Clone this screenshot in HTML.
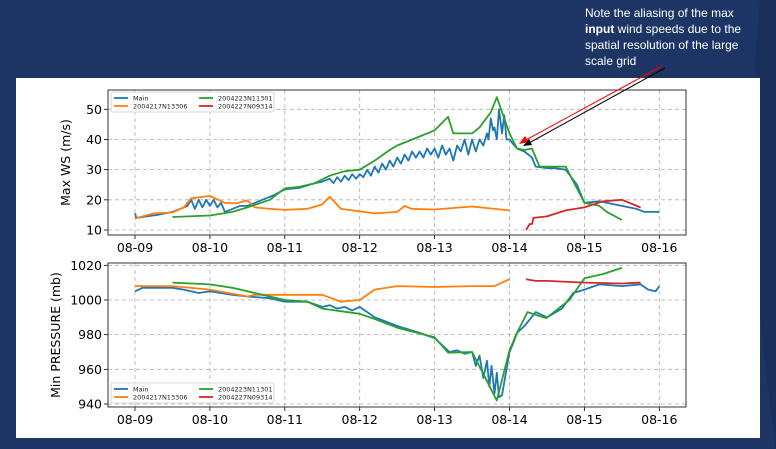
<!DOCTYPE html>
<html><head><meta charset="utf-8"><style>
html,body{margin:0;padding:0;background:#1d3565;}
svg{display:block;font-family:"DejaVu Sans","Liberation Sans",sans-serif;}
</style></head><body>
<svg id="c" width="776" height="449" viewBox="0 0 776 449">
<rect x="0" y="0" width="776" height="449" fill="#1d3565"/>
<path d="M760 0 Q740 200 776 449 L776 0Z" fill="#1a2f5a"/>
<rect x="16" y="78" width="744" height="360" fill="#fff"/>
<g id="top"></g>
<g id="bot"></g>
<text x="585" y="17" fill="#fff" font-size="12" font-family="Liberation Sans, sans-serif">Note the aliasing of the max</text>
<text x="585" y="33" fill="#fff" font-size="12" font-family="Liberation Sans, sans-serif"><tspan font-weight="bold">input</tspan> wind speeds due to the</text>
<text x="585" y="49" fill="#fff" font-size="12" font-family="Liberation Sans, sans-serif">spatial resolution of the large</text>
<text x="585" y="65" fill="#fff" font-size="12" font-family="Liberation Sans, sans-serif">scale grid</text>
<line x1="662" y1="66" x2="524" y2="141" stroke="#ff0000" stroke-width="1"/>
<polygon points="519,144 525,136 529,142" fill="#ff0000"/>
<line x1="665" y1="68" x2="529" y2="143" stroke="#000" stroke-width="1"/>
<polygon points="523,146 529,139 532,145" fill="#000"/>
</svg>
<script>
const xTickLabels=["08-09","08-10","08-11","08-12","08-13","08-14","08-15","08-16"];
const wsTicks=[10,20,30,40,50];
const prTicks=[940,960,980,1000,1020];
const legendNames=["Main","2004217N13306","2004223N11301","2004227N09314"];
const colors=["#1f77b4","#ff7f0e","#2ca02c","#d62728"];
// Top panel (wind speed), x = days since 08-09
const wsMainT=[0,0.02,0.3,0.5,0.6,0.7,0.75,0.8,0.85,0.9,0.95,1.0,1.05,1.1,1.15,1.2,1.3,1.4,1.5,1.7,1.85,2.0,2.2,2.4,2.5,2.6,2.65,2.7,2.75,2.8,2.85,2.9,2.95,3.0,3.05,3.1,3.15,3.2,3.25,3.3,3.35,3.4,3.45,3.5,3.55,3.6,3.65,3.7,3.75,3.8,3.85,3.9,3.95,4.0,4.05,4.1,4.15,4.2,4.25,4.3,4.35,4.4,4.45,4.5,4.55,4.6,4.65,4.7,4.72,4.75,4.78,4.8,4.83,4.86,4.9,4.93,4.96,5.0,5.1,5.2,5.3,5.35,5.5,5.6,5.75,5.9,6.0,6.2,6.4,6.6,6.7,6.8,6.9,7.0];
const wsMainV=[15.5,14,15,16,17,18,20,17,20,17.5,20,18,20,17.5,19,16,17,18,18,20,21.5,23.5,24,25.5,26,27,25.5,27.5,26,28,26.5,28.5,27,28.5,27.5,30,28,31,29,32,30,33,31,34,32,35,33,36,34,36,34,37,35,37,34,38,35,37,33,38,36,40,35,40,36,40,38,42,40,47,43,44,40,50,42,48,40,40,37,36,34,31,30.5,30.5,30,25,19,19.5,18.5,17.5,17,16,16,16];
const wsOrT=[0,0.25,0.5,0.65,0.75,1.0,1.2,1.35,1.5,1.6,1.8,2.0,2.3,2.5,2.6,2.75,2.9,3.2,3.5,3.6,3.7,4.0,4.5,5.0];
const wsOrV=[13.8,15.5,15.8,17.5,20.5,21.3,19,18.8,19.8,17.5,17,16.7,17,18.5,21,17,16.5,15.5,16,18,17,16.8,17.8,16.5];
const wsGrT=[0.5,1.0,1.3,1.5,1.8,2.0,2.2,2.4,2.6,2.8,3.0,3.2,3.4,3.5,3.8,4.0,4.18,4.25,4.5,4.6,4.75,4.83,5.0,5.1,5.2,5.3,5.4,5.6,5.75,6.0,6.2,6.3,6.5];
const wsGrV=[14.3,14.8,16,17.5,20,23.8,24.3,25.5,28,29.5,30,33,36.5,38,41,43,47.5,42,42,44,49,54,42,37,36.5,37,31,31,31,19,18,16,13.3];
const wsRdT=[5.22,5.27,5.3,5.32,5.5,5.75,6.0,6.25,6.5,6.75];
const wsRdV=[10,12,12,14,14.5,16.5,17.5,19.5,20,17.5];
// Bottom panel (pressure)
const prMainT=[0,0.1,0.3,0.5,0.65,0.85,1.0,1.3,1.5,1.8,2.0,2.3,2.5,2.6,2.7,2.8,2.9,3.0,3.1,3.2,3.5,3.8,4.0,4.2,4.3,4.4,4.5,4.55,4.6,4.65,4.7,4.73,4.76,4.8,4.83,4.86,4.9,5.0,5.05,5.1,5.2,5.35,5.5,5.7,5.85,6.0,6.2,6.5,6.75,6.85,6.95,7.0];
const prMainV=[1005,1007,1007,1007,1006,1004,1005,1003,1002,1001,999,999,996,997,995,996,994,996,993,990,985,981,978,970,971,969,970,962,968,955,965,950,962,946,958,944,945,970,975,981,985,993,990,995,1004,1006,1009,1008,1009,1006,1005,1008];
const prOrT=[0,0.5,1.0,1.5,1.6,2.0,2.5,2.75,3.0,3.2,3.5,4.0,4.5,4.8,5.0];
const prOrV=[1008,1008,1006,1002,1003,1003,1003,999,1000,1006,1008,1007.5,1008,1008,1012];
const prGrT=[0.5,1.0,1.3,1.6,2.0,2.3,2.5,3.0,3.2,3.5,4.0,4.18,4.5,4.83,5.0,5.1,5.24,5.49,5.8,6.0,6.25,6.5];
const prGrV=[1010,1009,1007,1004,1000,999,995,992,989,984,978.5,969.6,970,942,971,981,993,989.5,1000,1012.5,1015,1018.5];
const prRdT=[5.22,5.35,5.5,6.0,6.5,6.75];
const prRdV=[1012,1011,1011,1010,1009.5,1010];

const NS="http://www.w3.org/2000/svg";
function mk(parent,tag,attrs){const e=document.createElementNS(NS,tag);for(const k in attrs)e.setAttribute(k,attrs[k]);parent.appendChild(e);return e;}
const x0=135,dayW=74.9;
function xs(d){return x0+d*dayW;}
function panel(g,L,T,R,B,ymin,ymax,yOfMax,yOfMin,ticks,ylabel,labelOff,series,legY){
  const ys=v=>yOfMin-(v-ymin)/(ymax-ymin)*(yOfMin-yOfMax);
  const grid=mk(g,'g',{});
  
  
  xTickLabels.forEach((lab,i)=>{
    const x=xs(i);
    const l=mk(grid,'line',{x1:x,x2:x,y1:T,y2:B,stroke:'#b0b0b0','stroke-dasharray':'4,3','stroke-width':0.8});
    
    
    const tk=mk(g,'line',{x1:x,x2:x,y1:B,y2:B+4,stroke:'#000','stroke-width':0.8});
    
    
    const t=mk(g,'text',{x:x,y:B+17,'font-size':12.5,'text-anchor':'middle',fill:'#000'});
    t.textContent=lab;
    
    
  });
  ticks.forEach(v=>{
    const y=ys(v);
    const l=mk(grid,'line',{x1:L,x2:R,y1:y,y2:y,stroke:'#b0b0b0','stroke-dasharray':'4,3','stroke-width':0.8});
    
    
    const tk=mk(g,'line',{x1:L-4,x2:L,y1:y,y2:y,stroke:'#000','stroke-width':0.8});
    
    
    const t=mk(g,'text',{x:L-6,y:y+4.5,'font-size':12.5,'text-anchor':'end',fill:'#000'});
    t.textContent=v;
    
    
  });
  const yl=mk(g,'text',{x:0,y:0,'font-size':12.5,'text-anchor':'middle',fill:'#000',transform:`translate(${L-labelOff},${(T+B)/2}) rotate(-90)`});
  yl.textContent=ylabel;
  
  
  series.forEach((s,i)=>{
    const d=s[0].map((t,j)=>(j?'L':'M')+xs(t).toFixed(1)+' '+ys(s[1][j]).toFixed(1)).join(' ');
    const p=mk(g,'path',{d:d,fill:'none',stroke:colors[i],'stroke-width':1.8,'stroke-linejoin':'round'});
    
    
  });
  const f=mk(g,'rect',{x:L,y:T,width:R-L,height:B-T,fill:'none',stroke:'#333','stroke-width':1});
  
  
  const lg=mk(g,'g',{});
  
  
  const lb=mk(lg,'rect',{x:L+3,y:legY,width:163,height:20,fill:'#fff','fill-opacity':0.85,stroke:'#ccc','stroke-width':0.8,rx:2});
  
  
  legendNames.forEach((n,i)=>{
    const cx=L+6+(i>=2?85:0), cy=legY+6+(i%2)*8;
    const l=mk(lg,'line',{x1:cx,x2:cx+14,y1:cy,y2:cy,stroke:colors[i],'stroke-width':1.8});
    
    
    const t=mk(lg,'text',{x:cx+19,y:cy+2.5,'font-size':6.5,fill:'#222'});
    t.textContent=n;
    
    
  });
}
panel(document.getElementById('top'),108,90,686,235,10,50,109.3,230,wsTicks,'Max WS (m/s)',38,
  [[wsMainT,wsMainV],[wsOrT,wsOrV],[wsGrT,wsGrV],[wsRdT,wsRdV]],92);
panel(document.getElementById('bot'),108,263,686,407,940,1020,265.3,404,prTicks,'Min PRESSURE (mb)',48,
  [[prMainT,prMainV],[prOrT,prOrV],[prGrT,prGrV],[prRdT,prRdV]],383);
</script>
</body></html>
